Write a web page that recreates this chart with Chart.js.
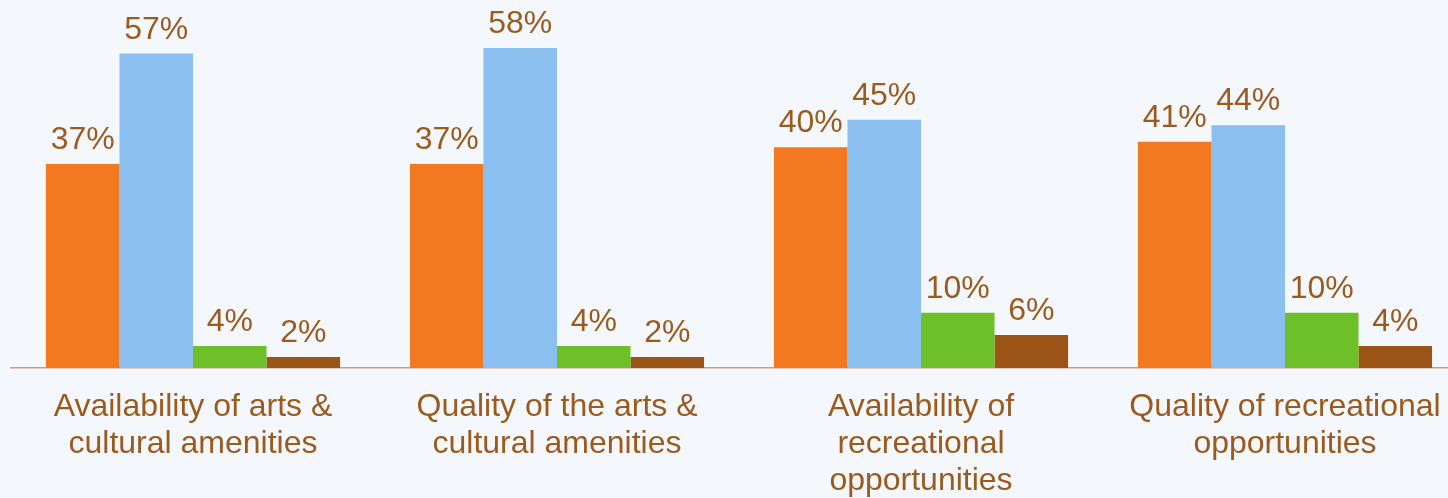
<!DOCTYPE html>
<html>
<head>
<meta charset="utf-8">
<script src="https://cdn.jsdelivr.net/npm/chart.js@4/dist/chart.umd.min.js"></script>
<style>
  html, body { margin: 0; padding: 0; background: #f4f8fc; overflow: hidden; }
  #wrap { width: 1480px; height: 498px; position: relative; }
</style>
</head>
<body>
<div id="wrap"><canvas id="amenitiesChart"></canvas></div>
<script>
  // categories (multi-line labels) and the four series
  let categories = [
    ["Availability of arts &", "cultural amenities"],
    ["Quality of the arts &", "cultural amenities"],
    ["Availability of", "recreational", "opportunities"],
    ["Quality of recreational", "opportunities"]
  ];
  let seriesNames = ["Excellent", "Good", "Fair", "Poor"];
  let seriesA = [37, 37, 40, 41];
  let seriesB = [57, 58, 45, 44];
  let seriesC = [4, 4, 10, 10];
  let seriesD = [2, 2, 6, 4];
  let barColors = ["#f27920", "#8bbff0", "#6ec029", "#9b5316"];
  let textColor = "#9b5a1e";

  /**************Value labels above bars**************/
  const valueLabels = {
    id: 'valueLabels',
    afterDatasetsDraw(chart) {
      const ctx = chart.ctx;
      ctx.save();
      ctx.font = '32px "Liberation Sans", Arial, sans-serif';
      ctx.fillStyle = textColor;
      ctx.textAlign = 'center';
      ctx.textBaseline = 'alphabetic';
      chart.data.datasets.forEach((ds, i) => {
        chart.getDatasetMeta(i).data.forEach((bar, j) => {
          ctx.fillText(ds.data[j] + '%', bar.x, bar.y - 15);
        });
      });
      ctx.restore();
    }
  };

  let seriesData = [seriesA, seriesB, seriesC, seriesD];
  let datasets = seriesData.map((d, i) => ({
    label: seriesNames[i],
    data: d,
    backgroundColor: barColors[i],
    borderWidth: 0,
    categoryPercentage: 0.808,
    barPercentage: 1.0
  }));

  var ctx = document.getElementById("amenitiesChart").getContext("2d");
  var myChart = new Chart(ctx, {
    type: "bar",
    data: { labels: categories, datasets: datasets },
    options: {
      responsive: true,
      maintainAspectRatio: false,
      animation: false,
      layout: { padding: { top: 37, left: 11, right: 13, bottom: 0 } },
      plugins: { legend: { display: false }, tooltip: { enabled: false } },
      scales: {
        x: {
          grid: { display: false, drawTicks: false },
          border: { display: true, color: "#c79c8a", width: 1.5 },
          // fixed axis band so the baseline sits at 368px
          afterFit: (scale) => { scale.height = 130; },
          ticks: {
            color: textColor,
            padding: 20,
            maxRotation: 0,
            autoSkip: false,
            font: { family: '"Liberation Sans", Arial, sans-serif', size: 32, lineHeight: 1.17 }
          }
        },
        y: {
          display: false,
          min: 0,
          max: 60
        }
      }
    },
    plugins: [valueLabels]
  });
</script>
</body>
</html>
